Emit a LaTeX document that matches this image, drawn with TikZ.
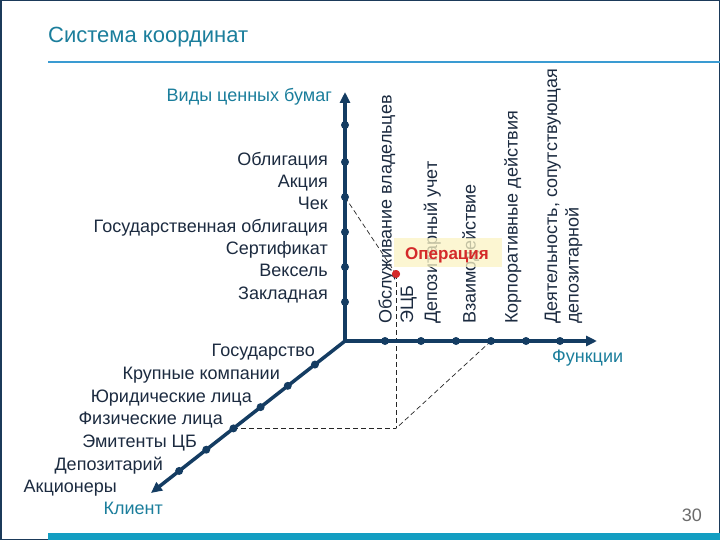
\documentclass[tikz,border=0pt]{standalone}
\usepackage{fontspec}
\setmainfont{Liberation Sans}
\usetikzlibrary{arrows.meta,calc}
\definecolor{axiscol}{HTML}{143C62}
\definecolor{navy}{HTML}{1C2B40}
\definecolor{tealtxt}{HTML}{1B7E9C}
\definecolor{barcol}{HTML}{139EC2}
\definecolor{linecol}{HTML}{3A9BD2}
\definecolor{framecol}{HTML}{1B3A5A}
\definecolor{opred}{HTML}{D42A2A}
\definecolor{opbg}{HTML}{FBF4C4}
\definecolor{numgray}{HTML}{6B6B6B}
\tikzset{
  axisline/.style={line width=3.5pt, draw=axiscol, -{Triangle[length=11pt,width=10pt]}},
  adot/.style={circle, fill=axiscol, inner sep=0pt, minimum size=8pt},
  lbl/.style={inner sep=0pt, font=\fontsize{18}{22}\selectfont, text=navy},
  rlbl/.style={lbl, anchor=base east},
  vlbl/.style={lbl, rotate=90, anchor=base west},
  tlbl/.style={inner sep=0pt, font=\fontsize{18}{22}\selectfont, text=tealtxt},
  proj/.style={draw=black!85, line width=0.7pt, dash pattern=on 5pt off 3pt},
  reddot/.style={circle, fill=opred, inner sep=0pt, minimum size=8pt}
}
\begin{document}
\begin{tikzpicture}[x=1pt,y=-1pt]
\useasboundingbox (0,0) rectangle (720,540);
\fill[white] (0,0) rectangle (720,540);
\draw[framecol, line width=1.5pt] (0.75,0.75) rectangle (719.25,539.25);
% title
\node[anchor=base west, inner sep=0pt, font=\fontsize{22}{26}\selectfont, text=tealtxt] (title) at (48,43) {Система координат};
\draw[linecol, line width=2.5pt] (48,62) -- (720,62);
\fill[barcol] (48,533) rectangle (720,540);
\node[anchor=base east, inner sep=0pt, font=\fontsize{18}{22}\selectfont, text=numgray] (pnum) at (702,521) {30};

% axes coordinates
\coordinate (O) at (345,341);
\coordinate (Ytip) at (345,92);
\coordinate (Xtip) at (597,341);
\coordinate (Ztip) at (151,493);

% dots positions
\foreach \i/\y in {1/125,2/162,3/197,4/232,5/267,6/302} \coordinate (cv\i) at (345,\y);
\foreach \i/\x in {1/385,2/421,3/456,4/491,5/526,6/560} \coordinate (ch\i) at (\x,341);
\foreach \i/\t in {1/0.155,2/0.295,3/0.435,4/0.575,5/0.715,6/0.855} \coordinate (cz\i) at ($(O)!\t!(Ztip)$);
\node[reddot] (op) at (396,274) {};
\coordinate (P) at (op |- cz4);

% rotated labels
\node[vlbl] (f1a) at (391.5,324) {Обслуживание владельцев};
\node[vlbl] (f1b) at (413,324) {ЭЦБ};
\node[vlbl] (f2) at (437,324) {Депозитарный учет};
\node[vlbl] (f3) at (475.5,324) {Взаимодействие};
\node[vlbl] (f4) at (517.5,324) {Корпоративные действия};
\node[vlbl] (f5a) at (557,324) {Деятельность, сопутствующая};
\node[vlbl] (f5b) at (578.5,324) {депозитарной};

% operation box
\fill[opbg, fill opacity=0.75] (394,238) rectangle (502,267);
\node[inner sep=0pt, font=\fontsize{17}{20}\selectfont\bfseries, text=opred, anchor=base] (optxt) at (447,259) {Операция};

% projection lines
\draw[proj] (cv3) -- (op.center);
\draw[proj] (op.center) -- (P);
\draw[proj] (cz4) -- (P);
\draw[proj] (ch4) -- (P);

% axes
\draw[axisline] (O) -- (Ytip);
\draw[axisline] (O) -- (Xtip);
\draw[axisline] (O) -- (Ztip);
\foreach \i in {1,...,6} {
  \node[adot] (v\i) at (cv\i) {};
  \node[adot] (h\i) at (ch\i) {};
  \node[adot] (z\i) at (cz\i) {};
}
\node[reddot] at (op) {};

% security types
\node[tlbl, anchor=base east] (vids) at (332,101.5) {Виды ценных бумаг};
\node[rlbl] (s1) at (328,165.5) {Облигация};
\node[rlbl] (s2) at (328,187.75) {Акция};
\node[rlbl] (s3) at (328,210) {Чек};
\node[rlbl] (s4) at (328,232.25) {Государственная облигация};
\node[rlbl] (s5) at (328,254.5) {Сертификат};
\node[rlbl] (s6) at (328,276.75) {Вексель};
\node[rlbl] (s7) at (328,299) {Закладная};

% clients
\node[rlbl] (c1) at (315,356) {Государство};
\node[rlbl] (c2) at (280,379) {Крупные компании};
\node[rlbl] (c3) at (252,402) {Юридические лица};
\node[rlbl] (c4) at (223,424.5) {Физические лица};
\node[rlbl] (c5) at (197,447) {Эмитенты ЦБ};
\node[rlbl] (c6) at (163,470) {Депозитарий};
\node[rlbl] (c7) at (117,492.5) {Акционеры};
\node[tlbl, anchor=base east] (klient) at (163,514.5) {Клиент};
\node[tlbl, anchor=base west] (funk) at (552,362) {Функции};
\end{tikzpicture}
\end{document}
